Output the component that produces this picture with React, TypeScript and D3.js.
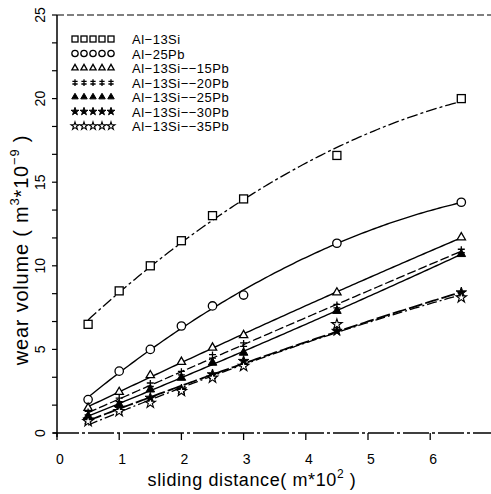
import React from "react";
import * as d3 from "d3";

const distances = [0.5, 1, 1.5, 2, 2.5, 3, 4.5, 6.5];
const al13Si = [6.5, 8.5, 10.0, 11.5, 13.0, 14.0, 16.6, 20.0];
const al25Pb = [2.0, 3.7, 5.0, 6.4, 7.6, 8.25, 11.35, 13.8];
const al13Si15Pb = [1.5, 2.45, 3.45, 4.25, 5.1, 5.85, 8.4, 11.7];
const al13Si20Pb = [1.2, 2.0, 2.9, 3.6, 4.6, 5.3, 7.6, 10.9];
const al13Si25Pb = [1.0, 1.7, 2.6, 3.3, 4.2, 4.8, 7.3, 10.7];
const al13Si30Pb = [0.8, 1.5, 2.1, 2.6, 3.5, 4.3, 6.1, 8.4];
const al13Si35Pb = [0.7, 1.3, 1.8, 2.5, 3.3, 4.0, 6.5, 8.1];
const seriesNames = [
  "Al\u221213Si",
  "Al\u221225Pb",
  "Al\u221213Si\u2212\u221215Pb",
  "Al\u221213Si\u2212\u221220Pb",
  "Al\u221213Si\u2212\u221225Pb",
  "Al\u221213Si\u2212\u221230Pb",
  "Al\u221213Si\u2212\u221235Pb",
];
const xTicks = [0, 1, 2, 3, 4, 5, 6];
const yTickLabels = [0, 5, 10, 15, 20, 25];

type Marker = "square" | "circle" | "triangle" | "plus" | "ftriangle" | "fstar" | "star";

const seriesDefs: { values: number[]; marker: Marker; dash: string; width: number }[] = [
  { values: al13Si, marker: "square", dash: "11,3,3,3", width: 1.3 },
  { values: al25Pb, marker: "circle", dash: "", width: 1.4 },
  { values: al13Si15Pb, marker: "triangle", dash: "", width: 1.4 },
  { values: al13Si20Pb, marker: "plus", dash: "9,3", width: 1.3 },
  { values: al13Si25Pb, marker: "ftriangle", dash: "", width: 1.4 },
  { values: al13Si30Pb, marker: "fstar", dash: "14,3", width: 1.8 },
  { values: al13Si35Pb, marker: "star", dash: "10,3,2,3", width: 1.3 },
];

function quadFit(xv: number[], yv: number[]) {
  let s0 = 0, s1 = 0, s2 = 0, s3 = 0, s4 = 0, t0 = 0, t1 = 0, t2 = 0;
  xv.forEach((xx, i) => {
    const yy = yv[i];
    s0 += 1; s1 += xx; s2 += xx * xx; s3 += xx * xx * xx; s4 += xx * xx * xx * xx;
    t0 += yy; t1 += xx * yy; t2 += xx * xx * yy;
  });
  const M = [
    [s0, s1, s2, t0],
    [s1, s2, s3, t1],
    [s2, s3, s4, t2],
  ];
  for (let i = 0; i < 3; i++) {
    let p = i;
    for (let r = i + 1; r < 3; r++) if (Math.abs(M[r][i]) > Math.abs(M[p][i])) p = r;
    [M[i], M[p]] = [M[p], M[i]];
    for (let r = 0; r < 3; r++) {
      if (r === i) continue;
      const f = M[r][i] / M[i][i];
      for (let c = i; c < 4; c++) M[r][c] -= f * M[i][c];
    }
  }
  const a = M[0][3] / M[0][0], b = M[1][3] / M[1][1], c = M[2][3] / M[2][2];
  return (xx: number) => a + b * xx + c * xx * xx;
}

const x = d3.scaleLinear().domain([0, 7]).range([57, 492.4]);
const y = d3.scaleLinear().domain([0, 25]).range([433, 15]);

function MarkerShape({ kind, cx, cy, s = 1 }: { kind: Marker; cx: number; cy: number; s?: number }) {
  const sw = 1.3;
  switch (kind) {
    case "square":
      return <rect x={cx - 4 * s} y={cy - 4 * s} width={8 * s} height={8 * s} fill="white" stroke="black" strokeWidth={sw} />;
    case "circle":
      return <circle cx={cx} cy={cy} r={4.2 * s} fill="white" stroke="black" strokeWidth={sw} />;
    case "triangle":
      return <path d={d3.symbol(d3.symbolTriangle, 30 * s * s)()!} transform={`translate(${cx},${cy})`} fill="white" stroke="black" strokeWidth={sw} />;
    case "plus":
      return (
        <path
          d={`M${cx - 3.5 * s},${cy - 1.5 * s}H${cx + 3.5 * s}M${cx - 3.5 * s},${cy + 2 * s}H${cx + 3.5 * s}M${cx},${cy - 4.5 * s}V${cy + 4.5 * s}`}
          stroke="black"
          strokeWidth={sw}
          fill="none"
        />
      );
    case "ftriangle":
      return <path d={d3.symbol(d3.symbolTriangle, 32 * s * s)()!} transform={`translate(${cx},${cy})`} fill="black" stroke="black" strokeWidth={1} />;
    case "fstar":
      return <path d={d3.symbol(d3.symbolStar, 34 * s * s)()!} transform={`translate(${cx},${cy})`} fill="black" stroke="black" strokeWidth={1} />;
    case "star":
      return <path d={d3.symbol(d3.symbolStar, 34 * s * s)()!} transform={`translate(${cx},${cy})`} fill="white" stroke="black" strokeWidth={1.1} />;
  }
}

export default function App() {
  const font = "'Liberation Sans', Arial, sans-serif";
  const line = d3
    .line<number[]>()
    .x((d) => x(d[0]))
    .y((d) => y(d[1]));
  const samples = d3.range(0.5, 6.5001, 0.05);
  const minorY = d3.range(0, 25.001, 5 / 3);

  return (
    <svg
      width={491}
      height={494}
      style={{ position: "absolute", left: 0, top: 0, display: "block", background: "white" }}
    >
      <rect x={0} y={0} width={491} height={494} fill="white" />
      {/* axes */}
      <line x1={x(0)} y1={y(25)} x2={x(0)} y2={y(0) + 4} stroke="black" strokeWidth={1.5} />
      <line x1={x(0) - 4} y1={y(0)} x2={491} y2={y(0)} stroke="black" strokeWidth={1.5} strokeDasharray="26,3,3,3" />
      <line x1={x(0)} y1={y(25)} x2={491} y2={y(25)} stroke="black" strokeWidth={1.2} strokeDasharray="7,3" />
      {xTicks.map((t) => (
        <g key={"xt" + t}>
          <line x1={x(t)} y1={y(0)} x2={x(t)} y2={y(0) + 7} stroke="black" strokeWidth={1.3} />
          <text x={x(t) + 3} y={464} fontSize={14} fontFamily={font} textAnchor="middle">
            {t}
          </text>
        </g>
      ))}
      {minorY.map((t, i) => (
        <line key={"ym" + i} x1={x(0) - 5} y1={y(t)} x2={x(0)} y2={y(t)} stroke="black" strokeWidth={1.2} />
      ))}
      {yTickLabels.map((t) => (
        <text
          key={"yl" + t}
          transform={`translate(${45},${y(t)}) rotate(-90)`}
          fontSize={14}
          fontFamily={font}
          textAnchor="middle"
        >
          {t}
        </text>
      ))}
      {/* axis titles */}
      <text x={252} y={486} fontSize={18} fontFamily={font} textAnchor="middle" letterSpacing={0.6}>
        sliding distance( m*10
        <tspan dy={-8} fontSize={12}>2</tspan>
        <tspan dy={8}>{"  )"}</tspan>
      </text>
      <text transform={`translate(28,250) rotate(-90)`} fontSize={20} fontFamily={font} textAnchor="middle" letterSpacing={0.8}>
        wear volume (  m
        <tspan dy={-9} fontSize={13}>3</tspan>
        <tspan dy={9}>*10</tspan>
        <tspan dy={-9} fontSize={13}>−9</tspan>
        <tspan dy={9}>{"  )"}</tspan>
      </text>
      {/* series */}
      {seriesDefs.map((s, si) => {
        const f = quadFit(distances, s.values);
        const pts = samples.map((t) => [t, f(t)]);
        return (
          <g key={"s" + si}>
            <path
              d={line(pts)!}
              fill="none"
              stroke="black"
              strokeWidth={s.width}
              strokeDasharray={s.dash || undefined}
            />
            {distances.map((dv, i) => (
              <MarkerShape key={i} kind={s.marker} cx={x(dv)} cy={y(s.values[i])} />
            ))}
          </g>
        );
      })}
      {/* legend */}
      {seriesDefs.map((s, si) => {
        const ly = 39 + si * 14.5;
        return (
          <g key={"lg" + si}>
            {[0, 1, 2, 3, 4].map((k) => (
              <MarkerShape key={k} kind={s.marker} cx={75 + k * 9} cy={ly} s={0.75} />
            ))}
            <text x={132} y={ly + 5} fontSize={13} fontFamily={font} letterSpacing={0.5}>
              {seriesNames[si]}
            </text>
          </g>
        );
      })}
    </svg>
  );
}
